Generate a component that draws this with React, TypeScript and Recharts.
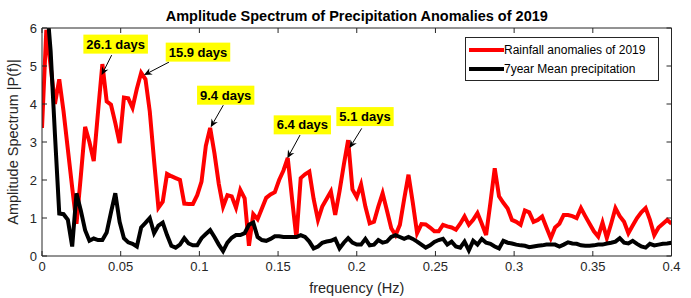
import React from 'react';
import { LineChart, Line, XAxis, YAxis, Legend, ReferenceDot } from 'recharts';

// spectrum sampled at k / 365 cycles per day, k = 0..146
const SAMPLE_DAYS = 365;

const RAINFALL_2019 = [
  3.37, 5.95, 5.0, 4.0, 4.65, 3.8, 2.8, 1.8, 0.85, 2.1,
  3.4, 3.0, 2.5, 3.8, 5.05, 4.07, 3.98, 3.5, 2.97, 4.17,
  4.15, 3.9, 4.4, 4.82, 4.65, 3.8, 2.5, 1.27, 1.43, 2.16,
  2.1, 2.05, 2.0, 1.38, 1.37, 1.37, 1.6, 1.96, 2.9, 3.37,
  2.7, 1.9, 1.3, 1.6, 1.57, 1.27, 1.74, 1.52, 0.27, 1.1,
  0.97, 1.25, 1.53, 1.62, 1.68, 2.0, 2.25, 2.58, 1.5, 0.47,
  2.05, 2.15, 2.22, 1.5, 0.95, 1.3, 1.5, 1.7, 1.08, 1.7,
  2.4, 3.05, 1.75, 1.55, 1.88, 1.3, 0.86, 0.9, 1.3, 1.65,
  1.2, 0.73, 0.55, 0.82, 1.5, 2.14, 1.4, 0.6, 0.84, 0.83,
  0.75, 0.65, 0.65, 0.82, 0.78, 0.75, 0.69, 0.85, 1.04, 0.82,
  0.95, 1.13, 0.85, 0.55, 1.4, 2.31, 1.57, 1.4, 1.25, 0.95,
  0.9, 0.82, 1.2, 1.15, 0.9, 0.95, 1.04, 0.75, 0.47, 0.75,
  0.85, 1.08, 1.08, 1.05, 1.0, 1.26, 1.05, 0.85, 0.65, 0.51,
  0.88, 0.47, 0.85, 1.26, 1.05, 0.9, 0.6, 0.8, 1.0, 1.15,
  1.26, 0.95, 0.55, 0.75, 0.85, 0.95, 0.85,
];

const MEAN_7YEAR = [
  7.0, 6.8, 5.4, 3.2, 1.12, 1.1, 0.95, 0.25, 1.65, 1.2,
  0.68, 0.4, 0.46, 0.42, 0.42, 0.62, 1.15, 1.65, 0.9, 0.47,
  0.36, 0.32, 0.25, 0.75, 0.87, 1.0, 0.6, 0.8, 0.88, 0.55,
  0.27, 0.22, 0.3, 0.47, 0.33, 0.28, 0.28, 0.47, 0.58, 0.68,
  0.5, 0.3, 0.13, 0.35, 0.48, 0.55, 0.55, 0.6, 0.82, 0.88,
  0.5, 0.42, 0.4, 0.45, 0.52, 0.52, 0.5, 0.5, 0.5, 0.5,
  0.55, 0.5, 0.38, 0.2, 0.25, 0.35, 0.38, 0.4, 0.45, 0.2,
  0.35, 0.47, 0.35, 0.3, 0.3, 0.45, 0.28, 0.3, 0.42, 0.35,
  0.38, 0.5, 0.55, 0.5, 0.45, 0.5, 0.45, 0.38, 0.3, 0.22,
  0.28, 0.37, 0.42, 0.45, 0.3, 0.38, 0.25, 0.22, 0.38, 0.15,
  0.4, 0.3, 0.45, 0.35, 0.32, 0.25, 0.2, 0.4, 0.35, 0.33,
  0.3, 0.28, 0.27, 0.23, 0.25, 0.27, 0.28, 0.3, 0.3, 0.3,
  0.25, 0.3, 0.36, 0.33, 0.32, 0.28, 0.27, 0.27, 0.28, 0.3,
  0.3, 0.33, 0.35, 0.38, 0.47, 0.35, 0.33, 0.4, 0.32, 0.25,
  0.22, 0.32, 0.28, 0.3, 0.32, 0.33, 0.35,
];

const SERIES_NAMES = ['Rainfall anomalies of 2019', '7year Mean precipitation'];
const X_TICKS = [0, 0.05, 0.1, 0.15, 0.2, 0.25, 0.3, 0.35, 0.4];
const Y_TICKS = [0, 1, 2, 3, 4, 5, 6];

// callouts: label and the point the arrow points at
const PEAK_LABELS = ['26.1 days', '15.9 days', '9.4 days', '6.4 days', '5.1 days'];
const PEAK_FREQ = [0.0379, 0.0648, 0.1072, 0.1559, 0.1954];
const PEAK_AMP = [4.76, 4.76, 3.39, 2.57, 2.84];

// pixel offsets of the callout box centre and arrow tail from the arrow tip
const CALLOUT_BOX = [[14, -31], [54, -23], [15, -32], [15, -33.5], [15.5, -31.5]];
const CALLOUT_TAIL = [[10, -20], [25, -13], [12.6, -22], [12.7, -23.3], [12.2, -19.7]];

const FONT = '"Liberation Sans", Arial, Helvetica, sans-serif';
const AXIS = '#262626';
const PLOT = { left: 42, top: 28, right: 19.5, bottom: 42 };
const W = 691;
const H = 298;
const TICK_FS = 13;
const LABEL_FS = 14.5;

const data = RAINFALL_2019.map((v, i) => ({ f: i / SAMPLE_DAYS, rain: v, mean: MEAN_7YEAR[i] }));

// rough Arial-bold advance widths (em) for the callout text
const BOLD_EM: Record<string, number> = { '.': 0.278, ' ': 0.278, d: 0.611, a: 0.556, y: 0.556, s: 0.556 };
const boldWidth = (s: string, size: number) =>
  s.split('').reduce((acc, ch) => acc + (BOLD_EM[ch] ?? 0.556), 0) * size;

const Callout = ({ cx, cy, idx }: { cx: number; cy: number; idx: number }) => {
  const [bx, by] = CALLOUT_BOX[idx];
  const [tx, ty] = CALLOUT_TAIL[idx];
  const label = PEAK_LABELS[idx];
  const w = boldWidth(label, 13) + 6;
  const h = 19;
  const x0 = cx + tx;
  const y0 = cy + ty;
  const ang = Math.atan2(cy - y0, cx - x0);
  const ux = Math.cos(ang);
  const uy = Math.sin(ang);
  const px = -uy;
  const py = ux;
  const len = 8;
  const half = 3.6;
  const notch = 5.5;
  const pts = [
    [cx, cy],
    [cx - ux * len + px * half, cy - uy * len + py * half],
    [cx - ux * notch, cy - uy * notch],
    [cx - ux * len - px * half, cy - uy * len - py * half],
  ].map((p) => p.join(',')).join(' ');
  return (
    <g>
      <line x1={x0} y1={y0} x2={cx - ux * notch} y2={cy - uy * notch} stroke="#000" strokeWidth={1} />
      <polygon points={pts} fill="#000" />
      <rect x={cx + bx - w / 2} y={cy + by - h / 2} width={w} height={h} fill="#ffff00" />
      <text
        x={cx + bx}
        y={cy + by}
        textAnchor="middle"
        dominantBaseline="central"
        fontFamily={FONT}
        fontWeight="bold"
        fontSize={13}
        fill="#000"
      >
        {label}
      </text>
    </g>
  );
};

const renderLegend = (props: any) => {
  const payload = [...(props.payload || [])].sort(
    (a: any, b: any) => SERIES_NAMES.indexOf(a.value) - SERIES_NAMES.indexOf(b.value),
  );
  return (
    <div
      style={{
        width: 194,
        height: 44,
        boxSizing: 'border-box',
        border: `1px solid ${AXIS}`,
        background: '#fff',
        position: 'relative',
        fontFamily: FONT,
        fontSize: 12,
        color: '#000',
      }}
    >
      {payload.map((e: any, i: number) => (
        <div
          key={i}
          style={{ position: 'absolute', left: 3, top: 3 + i * 19, height: 18, display: 'flex', alignItems: 'center', whiteSpace: 'nowrap' }}
        >
          <svg width={35} height={6} style={{ display: 'block' }}>
            <line x1={0} y1={3} x2={35} y2={3} stroke={e.color} strokeWidth={4} />
          </svg>
          <span style={{ lineHeight: '18px' }}>{e.value}</span>
        </div>
      ))}
    </div>
  );
};

const Y_MID = PLOT.top + (H - PLOT.top - PLOT.bottom) / 2;
const yLabel = () => (
  <text
    x={18}
    y={Y_MID}
    transform={`rotate(-90, 18, ${Y_MID})`}
    textAnchor="middle"
    fontFamily={FONT}
    fontSize={LABEL_FS}
    fill={AXIS}
  >
    Amplitude Spectrum |P(f)|
  </text>
);

const axisLine = { stroke: AXIS, strokeWidth: 1 };
const tickLine = { stroke: AXIS, strokeWidth: 1 };

export default function App() {
  return (
    <div style={{ position: 'absolute', left: 0, top: 0, width: W, height: H, background: '#fff' }}>
      <LineChart
        width={W}
        height={H}
        data={data}
        margin={{ top: PLOT.top - 1, right: PLOT.right - 1, bottom: 0, left: 0 }}
        style={{ fontFamily: FONT }}
      >
        <XAxis
          dataKey="f"
          type="number"
          domain={[0, 0.4]}
          ticks={X_TICKS}
          interval={0}
          allowDataOverflow
          height={PLOT.bottom}
          tickSize={-5}
          tickMargin={11}
          stroke={AXIS}
          axisLine={axisLine}
          tickLine={tickLine}
          tick={{ fill: AXIS, fontSize: TICK_FS }}
          label={{ value: 'frequency (Hz)', position: 'insideBottom', offset: 5, fill: AXIS, fontSize: LABEL_FS }}
        />
        <XAxis
          xAxisId="top"
          orientation="top"
          dataKey="f"
          type="number"
          domain={[0, 0.4]}
          ticks={X_TICKS}
          interval={0}
          allowDataOverflow
          height={1}
          tickSize={-5}
          tickFormatter={() => ''}
          stroke={AXIS}
          axisLine={axisLine}
          tickLine={tickLine}
          label={{
            value: 'Amplitude Spectrum of Precipitation Anomalies of 2019',
            position: 'top',
            offset: 6,
            fill: '#000',
            fontSize: LABEL_FS,
            fontWeight: 'bold',
          }}
        />
        <YAxis
          type="number"
          domain={[0, 6]}
          ticks={Y_TICKS}
          interval={0}
          allowDataOverflow
          width={PLOT.left}
          tickSize={-5}
          tickMargin={10}
          stroke={AXIS}
          axisLine={axisLine}
          tickLine={tickLine}
          tick={{ fill: AXIS, fontSize: TICK_FS }}
          label={{ content: yLabel }}
        />
        <YAxis
          yAxisId="right"
          orientation="right"
          type="number"
          domain={[0, 6]}
          ticks={Y_TICKS}
          interval={0}
          allowDataOverflow
          width={1}
          tickSize={-5}
          tickFormatter={() => ''}
          stroke={AXIS}
          axisLine={axisLine}
          tickLine={tickLine}
        />
        <Legend
          layout="vertical"
          align="center"
          verticalAlign="middle"
          content={renderLegend}
          wrapperStyle={{ left: 465, top: 37, width: 194, height: 44 }}
        />
        <Line
          name={SERIES_NAMES[0]}
          dataKey="rain"
          type="linear"
          stroke="#ff0000"
          strokeWidth={4}
          dot={false}
          isAnimationActive={false}
        />
        <Line
          name={SERIES_NAMES[1]}
          dataKey="mean"
          type="linear"
          stroke="#000000"
          strokeWidth={4}
          dot={false}
          isAnimationActive={false}
        />
        {PEAK_LABELS.map((l, i) => (
          <ReferenceDot
            key={l}
            x={PEAK_FREQ[i]}
            y={PEAK_AMP[i]}
            r={0}
            shape={(p: any) => <Callout cx={p.cx} cy={p.cy} idx={i} />}
          />
        ))}
      </LineChart>
    </div>
  );
}
